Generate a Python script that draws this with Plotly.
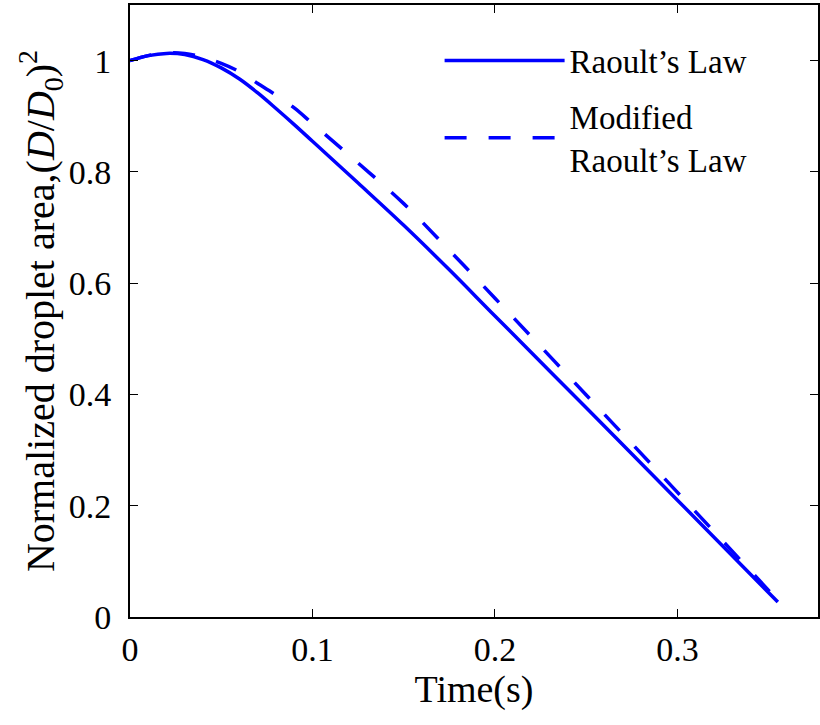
import plotly.graph_objects as go

# Raoult's Law (solid)
t_raoult = [0, 0.01, 0.02, 0.03, 0.04, 0.05, 0.06, 0.07, 0.08, 0.09, 0.1, 0.125, 0.15,
            0.175, 0.2, 0.25, 0.3, 0.355]
a_raoult = [1.0, 1.009, 1.013, 1.011, 1.002, 0.987, 0.967, 0.942, 0.914, 0.885, 0.855,
            0.780, 0.704, 0.624, 0.541, 0.376, 0.210, 0.027]

# Modified Raoult's Law (dashed)
t_mod = [0, 0.01, 0.02, 0.03, 0.04, 0.05, 0.06, 0.07, 0.08, 0.09, 0.1, 0.125, 0.15,
         0.175, 0.2, 0.25, 0.3, 0.355]
a_mod = [1.0, 1.009, 1.014, 1.013, 1.006, 0.995, 0.980, 0.959, 0.938, 0.915, 0.887,
         0.816, 0.743, 0.659, 0.573, 0.399, 0.224, 0.03]

x_ticks = [0, 0.1, 0.2, 0.3]
y_ticks = [0, 0.2, 0.4, 0.6, 0.8, 1]
y_ticklabels = ["0", "0.2", "0.4", "0.6", "0.8", "1"]

FONT = "Liberation Serif"

fig = go.Figure()
fig.add_trace(go.Scatter(x=t_raoult, y=a_raoult, mode="lines", name="Raoult\u2019s Law",
                         legendgroup="a",
                         line=dict(color="#0000FF", width=3.5, shape="spline", smoothing=1)))
fig.add_trace(go.Scatter(x=t_mod, y=a_mod, mode="lines", name="Modified<br>Raoult\u2019s Law",
                         legendgroup="b",
                         line=dict(color="#0000FF", width=3.5, dash="22px,22px",
                                   shape="spline", smoothing=1)))

fig.update_layout(
    width=820, height=725,
    margin=dict(l=130, r=0, t=5, b=108),
    paper_bgcolor="white", plot_bgcolor="white",
    font=dict(family=FONT, color="black", size=33),
    showlegend=True,
    legend=dict(x=0.45, y=0.955, xanchor="left", yanchor="top",
                bgcolor="rgba(0,0,0,0)", font=dict(size=33, family=FONT),
                itemwidth=120, traceorder="grouped", tracegroupgap=10),
    xaxis=dict(range=[0, 0.377], tickvals=x_ticks, ticktext=[str(v) for v in x_ticks],
               ticks="inside", ticklen=8, tickwidth=1, tickcolor="black",
               showline=True, linecolor="black", linewidth=2, mirror="ticks",
               showgrid=False, zeroline=False,
               tickfont=dict(size=34, family=FONT), ticklabelstandoff=1,
               title=dict(text="Time(s)", font=dict(size=38, family=FONT), standoff=4)),
    yaxis=dict(range=[0, 1.1], tickvals=y_ticks, ticktext=y_ticklabels,
               ticks="inside", ticklen=8, tickwidth=1, tickcolor="black",
               showline=True, linecolor="black", linewidth=2, mirror="ticks",
               showgrid=False, zeroline=False,
               tickfont=dict(size=34, family=FONT), ticklabelstandoff=10,
               title=dict(text="Normalized droplet area,(<i>D</i>/<i>D</i><sub>0</sub>)<sup>2</sup>",
                          font=dict(size=40, family=FONT), standoff=0)),
)

fig.write_html("out.html")
